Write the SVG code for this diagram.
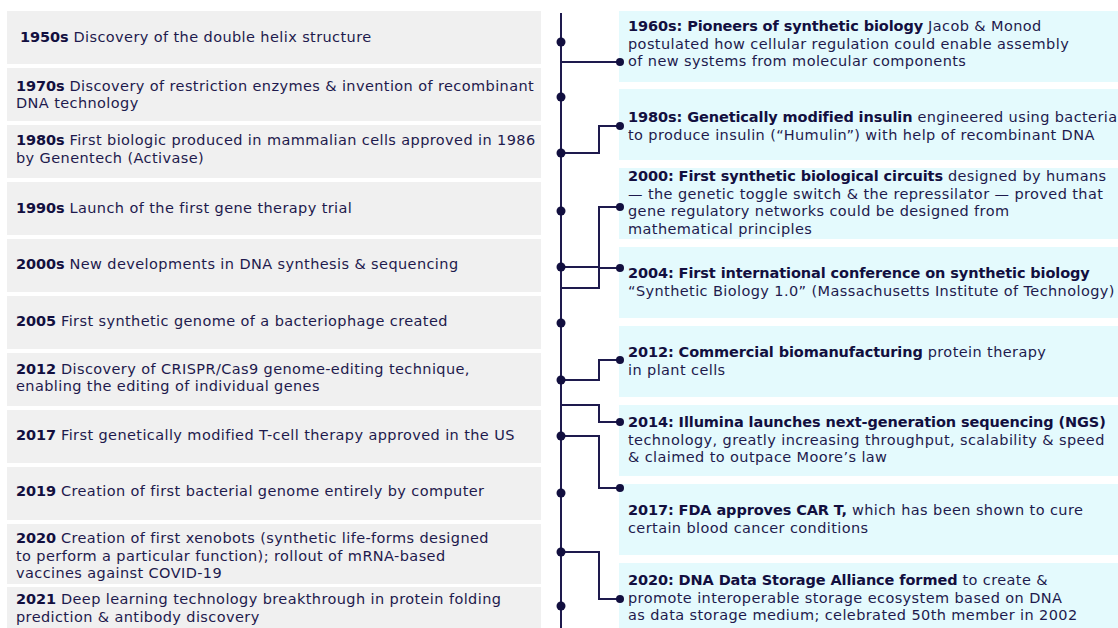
<svg xmlns="http://www.w3.org/2000/svg" width="1118" height="628" viewBox="0 0 1118 628">
<style>
text{font-family:"DejaVu Sans","Liberation Sans",sans-serif;font-size:14.5px;letter-spacing:0.4px;fill:#1e1a4d}
.b{font-weight:700;letter-spacing:-0.1px;fill:#120f3f}
.lb{fill:#f0f0f0}
.rb{fill:#e4fafd}
.ln{fill:none;stroke:#1e1a4d;stroke-width:2}
.d{fill:#120f3f}
</style>
<rect width="1118" height="628" fill="#ffffff"/>
<g id="left">
<g id="l1950"><rect class="lb" x="7" y="11" width="534" height="53"/><text x="20" y="42"><tspan class="b">1950s</tspan> Discovery of the double helix structure</text></g>
<g id="l1970"><rect class="lb" x="7" y="68" width="534" height="53"/><text x="16" y="90.5"><tspan class="b">1970s</tspan> Discovery of restriction enzymes &amp; invention of recombinant</text><text x="16" y="108">DNA technology</text></g>
<g id="l1980"><rect class="lb" x="7" y="125" width="534" height="53"/><text x="16" y="145"><tspan class="b">1980s</tspan> First biologic produced in mammalian cells approved in 1986</text><text x="16" y="162.5">by Genentech (Activase)</text></g>
<g id="l1990"><rect class="lb" x="7" y="182" width="534" height="53"/><text x="16" y="213"><tspan class="b">1990s</tspan> Launch of the first gene therapy trial</text></g>
<g id="l2000"><rect class="lb" x="7" y="239" width="534" height="53"/><text x="16" y="269"><tspan class="b">2000s</tspan> New developments in DNA synthesis &amp; sequencing</text></g>
<g id="l2005"><rect class="lb" x="7" y="296" width="534" height="53"/><text x="16" y="326"><tspan class="b">2005</tspan> First synthetic genome of a bacteriophage created</text></g>
<g id="l2012"><rect class="lb" x="7" y="353" width="534" height="53"/><text x="16" y="373.5"><tspan class="b">2012</tspan> Discovery of CRISPR/Cas9 genome-editing technique,</text><text x="16" y="391">enabling the editing of individual genes</text></g>
<g id="l2017"><rect class="lb" x="7" y="410" width="534" height="53"/><text x="16" y="439.5"><tspan class="b">2017</tspan> First genetically modified T-cell therapy approved in the US</text></g>
<g id="l2019"><rect class="lb" x="7" y="467" width="534" height="53"/><text x="16" y="496"><tspan class="b">2019</tspan> Creation of first bacterial genome entirely by computer</text></g>
<g id="l2020"><rect class="lb" x="7" y="524" width="534" height="60"/><text x="16" y="543"><tspan class="b">2020</tspan> Creation of first xenobots (synthetic life-forms designed</text><text x="16" y="560.5">to perform a particular function); rollout of mRNA-based</text><text x="16" y="578">vaccines against COVID-19</text></g>
<g id="l2021"><rect class="lb" x="7" y="587" width="534" height="41"/><text x="16" y="604"><tspan class="b">2021</tspan> Deep learning technology breakthrough in protein folding</text><text x="16" y="621.5">prediction &amp; antibody discovery</text></g>
</g>
<g id="right">
<g id="r1960"><rect class="rb" x="619" y="11" width="499" height="71"/><text x="628" y="31"><tspan class="b">1960s: Pioneers of synthetic biology</tspan> Jacob &amp; Monod</text><text x="628" y="48.5">postulated how cellular regulation could enable assembly</text><text x="628" y="66">of new systems from molecular components</text></g>
<g id="r1980"><rect class="rb" x="619" y="89" width="499" height="71"/><text x="628" y="122"><tspan class="b">1980s: Genetically modified insulin</tspan> engineered using bacteria</text><text x="628" y="139.5">to produce insulin (“Humulin”) with help of recombinant DNA</text></g>
<g id="r2000"><rect class="rb" x="619" y="168" width="499" height="71"/><text x="628" y="181"><tspan class="b">2000: First synthetic biological circuits</tspan> designed by humans</text><text x="628" y="198.5">— the genetic toggle switch &amp; the repressilator — proved that</text><text x="628" y="216">gene regulatory networks could be designed from</text><text x="628" y="233.5">mathematical principles</text></g>
<g id="r2004"><rect class="rb" x="619" y="247" width="499" height="71"/><text x="628" y="278"><tspan class="b">2004: First international conference on synthetic biology</tspan></text><text x="628" y="295.5">“Synthetic Biology 1.0” (Massachusetts Institute of Technology)</text></g>
<g id="r2012"><rect class="rb" x="619" y="326" width="499" height="71"/><text x="628" y="357"><tspan class="b">2012: Commercial biomanufacturing</tspan> protein therapy</text><text x="628" y="374.5">in plant cells</text></g>
<g id="r2014"><rect class="rb" x="619" y="405" width="499" height="71"/><text x="628" y="427"><tspan class="b">2014: Illumina launches next-generation sequencing (NGS)</tspan></text><text x="628" y="444.5">technology, greatly increasing throughput, scalability &amp; speed</text><text x="628" y="462">&amp; claimed to outpace Moore’s law</text></g>
<g id="r2017"><rect class="rb" x="619" y="484" width="499" height="71"/><text x="628" y="515"><tspan class="b">2017: FDA approves CAR T,</tspan> which has been shown to cure</text><text x="628" y="532.5">certain blood cancer conditions</text></g>
<g id="r2020"><rect class="rb" x="619" y="563" width="499" height="65"/><text x="628" y="585"><tspan class="b">2020: DNA Data Storage Alliance formed</tspan> to create &amp;</text><text x="628" y="602.5">promote interoperable storage ecosystem based on DNA</text><text x="628" y="620">as data storage medium; celebrated 50th member in 2002</text></g>
</g>
<g id="connectors">
<path class="ln" d="M561 13V628"/>
<path class="ln" d="M561 62H620"/>
<path class="ln" d="M561 153H599V126H620"/>
<path class="ln" d="M561 267H599V207H620"/>
<path class="ln" d="M561 288H599V268H620"/>
<path class="ln" d="M561 380H599V360H620"/>
<path class="ln" d="M561 405H599V422H620"/>
<path class="ln" d="M561 436H599V488H620"/>
<path class="ln" d="M561 552H599V599H620"/>
<g class="d">
<circle cx="561" cy="42" r="4.5"/><circle cx="561" cy="97" r="4.5"/><circle cx="561" cy="153" r="4.5"/><circle cx="561" cy="211" r="4.5"/><circle cx="561" cy="267" r="4.5"/><circle cx="561" cy="323" r="4.5"/><circle cx="561" cy="380" r="4.5"/><circle cx="561" cy="436" r="4.5"/><circle cx="561" cy="493" r="4.5"/><circle cx="561" cy="552" r="4.5"/><circle cx="561" cy="606" r="4.5"/>
<circle cx="620" cy="62" r="4"/><circle cx="620" cy="126" r="4"/><circle cx="620" cy="207" r="4"/><circle cx="620" cy="268" r="4"/><circle cx="620" cy="360" r="4"/><circle cx="620" cy="422" r="4"/><circle cx="620" cy="488" r="4"/><circle cx="620" cy="599" r="4"/>
</g>
</g>
</svg>
